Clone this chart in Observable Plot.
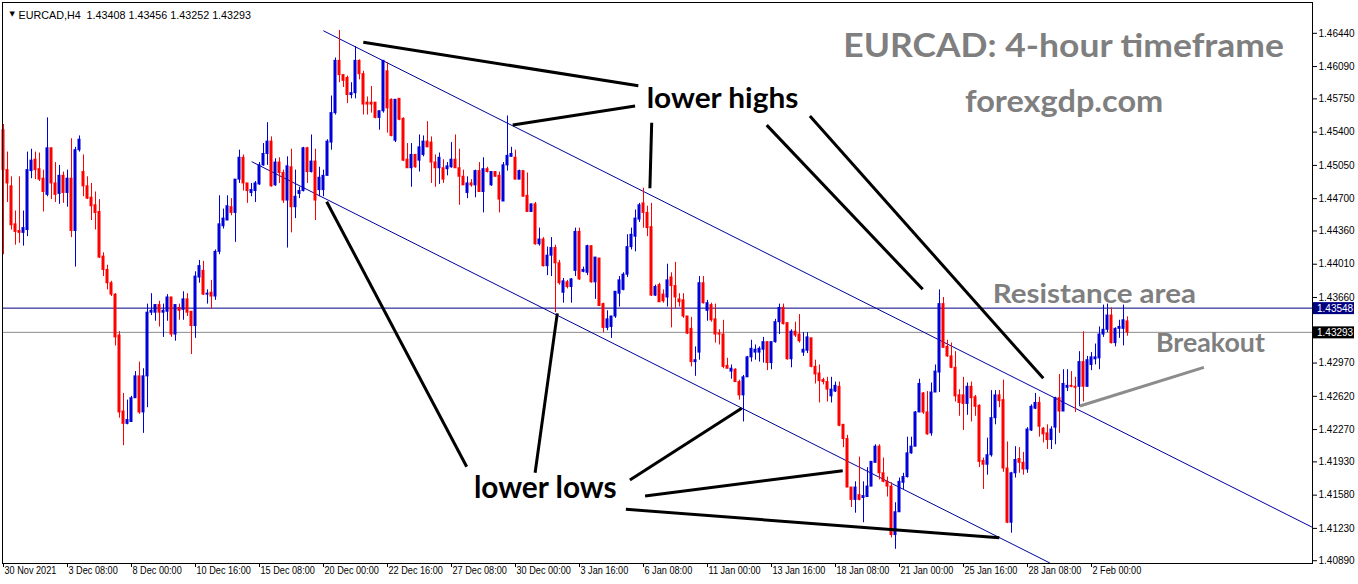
<!DOCTYPE html>
<html><head><meta charset="utf-8">
<script src="https://cdn.jsdelivr.net/npm/d3@7"></script>
<script src="https://cdn.jsdelivr.net/npm/@observablehq/plot@0.6"></script>
<style>html,body{margin:0;padding:0;background:#fff;}</style>
</head><body><div id="chart"></div>
<script>
// EURCAD H4 candles (bar index 0 = 30 Nov 2021 16:00)
const opens=[1.4542,1.4500,1.4483,1.4443,1.4436,1.4434,1.4437,1.4499,1.4511,1.4501,
1.4491,1.4474,1.4523,1.4486,1.4475,1.4494,1.4476,1.4491,1.4436,1.4521,
1.4498,1.4483,1.4471,1.4463,1.4456,1.4409,1.4395,1.4381,1.4369,1.4326,
1.4246,1.4233,1.4235,1.4260,1.4283,1.4245,1.4283,1.4350,1.4350,1.4358,
1.4350,1.4351,1.4366,1.4327,1.4355,1.4353,1.4364,1.4351,1.4336,1.4387,
1.4394,1.4369,1.4371,1.4367,1.4414,1.4441,1.4447,1.4461,1.4455,1.4490,
1.4513,1.4486,1.4476,1.4478,1.4485,1.4505,1.4517,1.4530,1.4484,1.4508,
1.4497,1.4468,1.4503,1.4461,1.4475,1.4478,1.4523,1.4498,1.4509,1.4479,
1.4479,1.4494,1.4529,1.4560,1.4615,1.4600,1.4597,1.4579,1.4581,1.4615,
1.4601,1.4571,1.4571,1.4571,1.4555,1.4562,1.4604,1.4574,1.4531,1.4575,
1.4554,1.4511,1.4502,1.4516,1.4510,1.4516,1.4530,1.4529,1.4508,1.4502,
1.4502,1.4501,1.4503,1.4511,1.4502,1.4493,1.4476,1.4486,1.4484,1.4499,
1.4477,1.4501,1.4484,1.4498,1.4494,1.4467,1.4505,1.4514,1.4513,1.4490,
1.4499,1.4473,1.4456,1.4464,1.4422,1.4427,1.4399,1.4410,1.4418,1.4402,
1.4371,1.4382,1.4377,1.4394,1.4435,1.4393,1.4392,1.4420,1.4382,1.4407,
1.4359,1.4334,1.4335,1.4346,1.4370,1.4374,1.4390,1.4419,1.4430,1.4448,
1.4465,1.4455,1.4440,1.4368,1.4379,1.4369,1.4366,1.4387,1.4378,1.4364,
1.4363,1.4346,1.4333,1.4298,1.4308,1.4381,1.4352,1.4358,1.4343,1.4328,
1.4327,1.4294,1.4288,1.4290,1.4277,1.4263,1.4282,1.4303,1.4308,1.4308,
1.4311,1.4319,1.4297,1.4319,1.4340,1.4355,1.4339,1.4301,1.4330,1.4327,
1.4308,1.4310,1.4323,1.4293,1.4286,1.4279,1.4277,1.4262,1.4267,1.4272,
1.4232,1.4217,1.4166,1.4153,1.4158,1.4155,1.4156,1.4167,1.4192,1.4209,
1.4181,1.4172,1.4167,1.4116,1.4140,1.4171,1.4177,1.4202,1.4209,1.4245,
1.4265,1.4245,1.4223,1.4266,1.4287,1.4359,1.4314,1.4304,1.4292,1.4263,
1.4263,1.4254,1.4272,1.4261,1.4252,1.4194,1.4190,1.4200,1.4239,1.4263,
1.4258,1.4186,1.4129,1.4181,1.4196,1.4192,1.4185,1.4226,1.4249,1.4255,
1.4228,1.4223,1.4216,1.4229,1.4260,1.4246,1.4271,1.4273,1.4272,1.4272,
1.4298,1.4272,1.4295,1.4301,1.4302,1.4327,1.4332,1.4347,1.4318,1.4333,
1.4333,1.43408];
const highs=[1.4548,1.4519,1.4493,1.4457,1.4493,1.4457,1.4519,1.4522,1.4519,1.4518,
1.4500,1.4555,1.4523,1.4508,1.4505,1.4498,1.4500,1.4533,1.4524,1.4536,
1.4516,1.4493,1.4486,1.4477,1.4469,1.4413,1.4400,1.4383,1.4370,1.4330,
1.4265,1.4258,1.4262,1.4288,1.4298,1.4291,1.4359,1.4370,1.4358,1.4362,
1.4359,1.4369,1.4366,1.4358,1.4359,1.4372,1.4370,1.4351,1.4393,1.4405,
1.4404,1.4374,1.4384,1.4416,1.4473,1.4459,1.4473,1.4470,1.4490,1.4521,
1.4516,1.4486,1.4486,1.4488,1.4508,1.4528,1.4550,1.4535,1.4512,1.4513,
1.4500,1.4514,1.4522,1.4500,1.4482,1.4524,1.4524,1.4537,1.4522,1.4503,
1.4500,1.4532,1.4578,1.4618,1.4647,1.4600,1.4599,1.4592,1.4630,1.4616,
1.4604,1.4577,1.4588,1.4571,1.4562,1.4615,1.4613,1.4575,1.4574,1.4575,
1.4555,1.4528,1.4528,1.4516,1.4537,1.4536,1.4551,1.4535,1.4516,1.4518,
1.4511,1.4508,1.4529,1.4537,1.4522,1.4500,1.4493,1.4490,1.4500,1.4508,
1.4513,1.4503,1.4498,1.4498,1.4498,1.4508,1.4557,1.4524,1.4521,1.4500,
1.4499,1.4497,1.4464,1.4466,1.4439,1.4429,1.4419,1.4429,1.4421,1.4405,
1.4386,1.4384,1.4386,1.4439,1.4439,1.4398,1.4421,1.4420,1.4408,1.4407,
1.4360,1.4352,1.4346,1.4372,1.4388,1.4392,1.4432,1.4439,1.4458,1.4465,
1.4481,1.4462,1.4465,1.4379,1.4381,1.4374,1.4401,1.4392,1.4403,1.4370,
1.4370,1.4346,1.4345,1.4314,1.4388,1.4388,1.4363,1.4360,1.4359,1.4332,
1.4342,1.4302,1.4295,1.4291,1.4279,1.4284,1.4304,1.4321,1.4316,1.4314,
1.4324,1.4319,1.4319,1.4343,1.4359,1.4359,1.4339,1.4332,1.4340,1.4348,
1.4329,1.4329,1.4323,1.4300,1.4295,1.4281,1.4282,1.4282,1.4277,1.4277,
1.4232,1.4221,1.4166,1.4172,1.4198,1.4172,1.4187,1.4193,1.4211,1.4211,
1.4197,1.4177,1.4171,1.4150,1.4176,1.4181,1.4219,1.4219,1.4246,1.4280,
1.4266,1.4267,1.4276,1.4295,1.4374,1.4366,1.4321,1.4318,1.4309,1.4269,
1.4282,1.4276,1.4277,1.4263,1.4253,1.4197,1.4218,1.4268,1.4268,1.4268,
1.4279,1.4214,1.4182,1.4209,1.4208,1.4203,1.4229,1.4253,1.4265,1.4261,
1.4229,1.4232,1.4230,1.4261,1.4285,1.4290,1.4290,1.4288,1.4282,1.4309,
1.4330,1.4304,1.4308,1.4317,1.4335,1.4358,1.4359,1.4355,1.4334,1.4342,
1.4358,1.43456];
const lows=[1.4411,1.4466,1.4437,1.4421,1.4423,1.4420,1.4430,1.4491,1.4490,1.4488,
1.4456,1.4472,1.4469,1.4466,1.4464,1.4465,1.4461,1.4429,1.4398,1.4519,
1.4472,1.4469,1.4447,1.4437,1.4407,1.4388,1.4374,1.4367,1.4315,1.4239,
1.4210,1.4232,1.4235,1.4260,1.4243,1.4223,1.4250,1.4347,1.4341,1.4335,
1.4324,1.4341,1.4324,1.4320,1.4342,1.4342,1.4346,1.4306,1.4323,1.4381,
1.4368,1.4359,1.4354,1.4363,1.4411,1.4438,1.4447,1.4452,1.4424,1.4486,
1.4478,1.4465,1.4472,1.4466,1.4484,1.4504,1.4505,1.4482,1.4483,1.4486,
1.4465,1.4418,1.4434,1.4449,1.4470,1.4477,1.4486,1.4497,1.4447,1.4472,
1.4472,1.4494,1.4521,1.4558,1.4592,1.4587,1.4570,1.4575,1.4575,1.4595,
1.4558,1.4558,1.4560,1.4554,1.4542,1.4560,1.4539,1.4535,1.4529,1.4552,
1.4509,1.4502,1.4482,1.4502,1.4498,1.4514,1.4524,1.4486,1.4482,1.4485,
1.4486,1.4494,1.4502,1.4502,1.4463,1.4484,1.4470,1.4482,1.4471,1.4477,
1.4455,1.4497,1.4483,1.4493,1.4455,1.4467,1.4499,1.4514,1.4490,1.4490,
1.4472,1.4456,1.4456,1.4421,1.4420,1.4398,1.4389,1.4388,1.4350,1.4379,
1.4360,1.4375,1.4360,1.4388,1.4384,1.4392,1.4389,1.4381,1.4364,1.4357,
1.4329,1.4331,1.4323,1.4344,1.4356,1.4373,1.4387,1.4416,1.4414,1.4445,
1.4439,1.4430,1.4367,1.4367,1.4361,1.4360,1.4356,1.4334,1.4354,1.4356,
1.4344,1.4327,1.4293,1.4283,1.4300,1.4359,1.4341,1.4340,1.4318,1.4316,
1.4291,1.4291,1.4280,1.4277,1.4258,1.4235,1.4282,1.4298,1.4300,1.4298,
1.4297,1.4289,1.4290,1.4318,1.4327,1.4337,1.4300,1.4292,1.4324,1.4318,
1.4304,1.4307,1.4292,1.4275,1.4255,1.4274,1.4256,1.4255,1.4266,1.4230,
1.4208,1.4166,1.4145,1.4139,1.4152,1.4129,1.4156,1.4167,1.4192,1.4174,
1.4171,1.4156,1.4113,1.4101,1.4140,1.4164,1.4176,1.4201,1.4209,1.4245,
1.4243,1.4221,1.4220,1.4266,1.4266,1.4313,1.4303,1.4291,1.4256,1.4241,
1.4226,1.4242,1.4235,1.4241,1.4187,1.4164,1.4179,1.4198,1.4232,1.4250,
1.4182,1.4128,1.4118,1.4176,1.4181,1.4179,1.4181,1.4225,1.4248,1.4219,
1.4213,1.4206,1.4206,1.4211,1.4223,1.4246,1.4267,1.4271,1.4245,1.4251,
1.4256,1.4272,1.4289,1.4295,1.4290,1.4324,1.4329,1.4317,1.4314,1.4323,
1.4315,1.43252];
const closes=[1.4500,1.4486,1.4442,1.4435,1.4434,1.4439,1.4500,1.4510,1.4500,1.4490,
1.4477,1.4523,1.4486,1.4474,1.4494,1.4476,1.4491,1.4436,1.4521,1.4532,
1.4483,1.4470,1.4462,1.4455,1.4408,1.4395,1.4381,1.4369,1.4324,1.4245,
1.4233,1.4237,1.4260,1.4283,1.4245,1.4283,1.4350,1.4352,1.4358,1.4350,
1.4352,1.4366,1.4327,1.4358,1.4352,1.4364,1.4350,1.4336,1.4388,1.4399,
1.4369,1.4370,1.4367,1.4414,1.4443,1.4449,1.4462,1.4455,1.4490,1.4513,
1.4486,1.4478,1.4479,1.4486,1.4505,1.4517,1.4530,1.4483,1.4508,1.4497,
1.4468,1.4504,1.4461,1.4472,1.4478,1.4523,1.4498,1.4509,1.4468,1.4492,
1.4494,1.4530,1.4560,1.4615,1.4600,1.4594,1.4579,1.4581,1.4615,1.4601,
1.4569,1.4569,1.4569,1.4555,1.4562,1.4615,1.4565,1.4536,1.4574,1.4553,
1.4510,1.4502,1.4516,1.4503,1.4524,1.4530,1.4524,1.4508,1.4502,1.4513,
1.4490,1.4504,1.4511,1.4502,1.4493,1.4484,1.4486,1.4484,1.4499,1.4477,
1.4501,1.4498,1.4498,1.4493,1.4469,1.4505,1.4515,1.4517,1.4490,1.4499,
1.4472,1.4456,1.4464,1.4422,1.4427,1.4399,1.4410,1.4418,1.4402,1.4381,
1.4383,1.4377,1.4385,1.4435,1.4385,1.4395,1.4420,1.4382,1.4408,1.4357,
1.4334,1.4343,1.4346,1.4372,1.4384,1.4390,1.4419,1.4432,1.4449,1.4463,
1.4455,1.4439,1.4368,1.4377,1.4361,1.4362,1.4384,1.4378,1.4366,1.4361,
1.4346,1.4328,1.4298,1.4300,1.4381,1.4360,1.4360,1.4342,1.4327,1.4327,
1.4293,1.4291,1.4291,1.4277,1.4263,1.4282,1.4303,1.4312,1.4311,1.4312,
1.4319,1.4297,1.4319,1.4340,1.4355,1.4338,1.4301,1.4330,1.4326,1.4320,
1.4311,1.4324,1.4293,1.4285,1.4278,1.4277,1.4269,1.4269,1.4273,1.4231,
1.4217,1.4166,1.4153,1.4166,1.4153,1.4157,1.4167,1.4193,1.4209,1.4181,
1.4172,1.4167,1.4116,1.4140,1.4172,1.4177,1.4202,1.4209,1.4245,1.4275,
1.4245,1.4222,1.4266,1.4288,1.4359,1.4313,1.4304,1.4292,1.4262,1.4255,
1.4254,1.4272,1.4260,1.4251,1.4193,1.4190,1.4200,1.4239,1.4263,1.4257,
1.4186,1.4129,1.4181,1.4195,1.4192,1.4185,1.4227,1.4251,1.4255,1.4230,
1.4222,1.4216,1.4227,1.4260,1.4246,1.4275,1.4273,1.4272,1.4271,1.4298,
1.4272,1.4300,1.4303,1.4303,1.4327,1.4332,1.4347,1.4318,1.4333,1.4335,
1.4342,1.43293];

const xTickIdx=[0,16,32,48,64,80,96,112,128,144,160,176,192,208,224,240,256,272];
const xTickLabels=["30 Nov 2021","3 Dec 08:00","8 Dec 00:00","10 Dec 16:00","15 Dec 08:00","20 Dec 00:00","22 Dec 16:00","27 Dec 08:00","30 Dec 00:00","3 Jan 16:00","6 Jan 08:00","11 Jan 00:00","13 Jan 16:00","18 Jan 08:00","21 Jan 00:00","25 Jan 16:00","28 Jan 08:00","2 Feb 00:00"];
const yTickValues=[1.46440,1.46090,1.45750,1.45400,1.45050,1.44700,1.44360,1.44010,1.43660,1.42970,1.42620,1.42270,1.41930,1.41580,1.41230,1.40890];
const resistanceLevel=1.43548;
const lastClose=1.43293;
const header="EURCAD,H4\u00a0\u00a01.43408 1.43456 1.43252 1.43293";

// trend lines: bar index / price anchors
const channelLines=[
 {i1:79.95,p1:1.46467,i2:327.1,p2:1.41244},
 {i1:62.05,p1:1.45089,i2:261.6,p2:1.40866}];
const blackLines=[
 {i1:89.95,p1:1.46345,i2:158.7,p2:1.45889},
 {i1:127.3,p1:1.45475,i2:157.9,p2:1.45675},
 {i1:162.05,p1:1.45499,i2:161.6,p2:1.44809},
 {i1:190.8,p1:1.45474,i2:229.8,p2:1.43746},
 {i1:201.6,p1:1.45569,i2:259.95,p2:1.42809},
 {i1:80.8,p1:1.44668,i2:115.8,p2:1.41879},
 {i1:138.45,p1:1.43493,i2:132.9,p2:1.41816},
 {i1:156.6,p1:1.41739,i2:184.55,p2:1.42494},
 {i1:160.4,p1:1.41571,i2:209.8,p2:1.41837},
 {i1:155.6,p1:1.41431,i2:248.95,p2:1.41132}];
const grayLines=[{i1:269.1,p1:1.42518,i2:300.1,p2:1.42925}];
const labelTexts=["lower highs","lower lows","EURCAD: 4-hour timeframe","forexgdp.com","Resistance area","Breakout"];
const labelBars=[160.8,117.6,209.95,240.375,247.3,288.1];
const labelPrices=[1.45650,1.41547,1.46194,1.45607,1.43605,1.43090];

// label styling (separate from data)
const labelStyle=[
 {size:29,fill:"#000000",w:151.6},
 {size:29.5,fill:"#000000",w:142.7},
 {size:32.5,fill:"#7f7f7f",w:440.7},
 {size:30,fill:"#7f7f7f",w:198.3},
 {size:27,fill:"#7f7f7f",w:203.3},
 {size:25.7,fill:"#7f7f7f",w:109}];

const candles=opens.map((o,i)=>({i,o,h:highs[i],l:lows[i],c:closes[i]}));
const labels=labelTexts.map((t,k)=>({t,i:labelBars[k],p:labelPrices[k]}));
const bull="#0000d8", bear="#ff0000";
const col=d=>d.c>=d.o?bull:bear;
const W=1358,H=584,mR=46;
const labelFont="Lato, 'Open Sans', sans-serif";

const plot=Plot.plot({
  width:W,height:H,marginLeft:2,marginRight:mR,marginTop:2,marginBottom:21,
  style:{background:"#ffffff",fontFamily:"'Liberation Sans', Arial, sans-serif",fontSize:"10px",color:"#000",overflow:"visible"},
  x:{type:"linear",domain:[-0.25,327.25],ticks:xTickIdx,tickFormat:()=>"",tickSize:4,label:null},
  y:{type:"linear",domain:[1.408607,1.467641],axis:"right",ticks:yTickValues,tickFormat:d3.format(".5f"),tickSize:4,tickPadding:2,label:null},
  color:{type:"identity"},
  marks:[
    Plot.ruleY([resistanceLevel],{stroke:"#000080"}),
    Plot.ruleY([lastClose],{stroke:"#8c8c8c"}),
    Plot.link(channelLines,{x1:"i1",y1:"p1",x2:"i2",y2:"p2",stroke:"#00009c",strokeWidth:1}),
    Plot.ruleX(candles,{x:"i",y1:"l",y2:"h",stroke:col,strokeWidth:1}),
    Plot.rect(candles,{x1:d=>d.i-0.375,x2:d=>d.i+0.375,y1:"o",y2:"c",fill:col,insetTop:-0.5,insetBottom:-0.5}),
    Plot.link(blackLines,{x1:"i1",y1:"p1",x2:"i2",y2:"p2",stroke:"#000",strokeWidth:3}),
    Plot.link(grayLines,{x1:"i1",y1:"p1",x2:"i2",y2:"p2",stroke:"#8c8c8c",strokeWidth:3}),
    ...labels.map((a,k)=>Plot.text([a],{x:"i",y:"p",text:"t",fill:labelStyle[k].fill,fontSize:labelStyle[k].size,fontWeight:"bold",fontFamily:labelFont,textAnchor:"start",lineAnchor:"bottom"})),
    Plot.text(xTickIdx,{x:d=>d,text:(d,k)=>xTickLabels[k],frameAnchor:"bottom",textAnchor:"start",dx:1,dy:10,fontSize:10.5,fill:"#000"}),
    Plot.text(["\u25BC"],{frameAnchor:"top-left",dx:7,dy:8.5,fontSize:7,fontFamily:"'DejaVu Sans'",textAnchor:"start",fill:"#000"}),
    Plot.text([header],{frameAnchor:"top-left",dx:16,dy:9.3,fontSize:10.75,textAnchor:"start",fill:"#000"}),
    Plot.frame({stroke:"#000"})
  ]
});

const svg=d3.select(plot);
// stretch annotation texts to the widths seen in the original
svg.selectAll("text").each(function(){
  const k=labelTexts.indexOf(this.textContent);
  if(k>=0) d3.select(this).attr("textLength",labelStyle[k].w).attr("lengthAdjust","spacingAndGlyphs");
});
const ys=plot.scale("y");
[[resistanceLevel,"#000080"],[lastClose,"#000000"]].forEach(([v,bg])=>{
  const y=ys.apply(v)+0.5;
  svg.append("rect").attr("x",W-mR+1).attr("y",y-6).attr("width",41).attr("height",12).attr("fill",bg);
  svg.append("text").attr("x",W-mR+5).attr("y",y).attr("dy","0.35em").attr("fill","#fff")
    .attr("text-anchor","start").attr("font-size",10)
    .attr("font-family","'Liberation Sans', Arial, sans-serif").text(d3.format(".5f")(v));
});
document.getElementById("chart").appendChild(plot);
// date labels in the original use a narrower face: condense them slightly
svg.selectAll("text").each(function(){
  if(xTickLabels.indexOf(this.textContent)>=0){
    const w=this.getComputedTextLength();
    d3.select(this).attr("textLength",w*0.87).attr("lengthAdjust","spacingAndGlyphs");
  }
});
</script>
</body></html>
